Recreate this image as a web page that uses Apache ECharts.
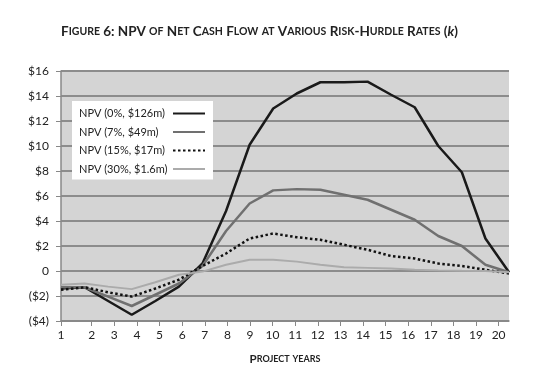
<!DOCTYPE html>
<html>
<head>
<meta charset="utf-8">
<script src="https://cdn.jsdelivr.net/npm/echarts@6/dist/echarts.min.js"></script>
<style>
html, body { margin: 0; padding: 0; background: #fff; }
#chart { width: 539px; height: 377px; }
</style>
</head>
<body>
<div id="chart"></div>
<script>
// 数据
var years = [1, 2, 3, 4, 5, 6, 7, 8, 9, 10, 11, 12, 13, 14, 15, 16, 17, 18, 19, 20];
var npv0 = [-1.4, -1.3, -2.4, -3.5, -2.4, -1.25, 0.6, 4.8, 10.1, 13.0, 14.2, 15.1, 15.1, 15.15, 14.1, 13.1, 10.0, 7.9, 2.6, -0.1];
var npv7 = [-1.3, -1.3, -2.05, -2.8, -1.9, -1.0, 0.4, 3.2, 5.4, 6.45, 6.55, 6.5, 6.1, 5.7, 4.9, 4.1, 2.8, 2.0, 0.5, -0.1];
var npv15 = [-1.5, -1.3, -1.7, -2.05, -1.4, -0.7, 0.4, 1.4, 2.6, 3.0, 2.7, 2.5, 2.1, 1.7, 1.2, 1.0, 0.6, 0.4, 0.1, -0.2];
var npv30 = [-1.1, -1.0, -1.25, -1.45, -0.9, -0.3, -0.05, 0.5, 0.9, 0.9, 0.75, 0.5, 0.3, 0.25, 0.2, 0.1, 0.05, 0.02, 0.0, -0.1];
var seriesNames = ['NPV (0%, $126m)', 'NPV (7%, $49m)', 'NPV (15%, $17m)', 'NPV (30%, $1.6m)'];

var font = 'Lato';

// 小型大写字母
function smallCaps(str) {
	var out = '';
	var cur = '';
	var style = '';
	for (var i = 0; i < str.length; i++) {
		var c = str.charAt(i);
		var st = (c >= 'a' && c <= 'z') ? 's' : 'b';
		if (st != style && cur != '') {
			out += '{' + style + '|' + cur + '}';
			cur = '';
		}
		style = st;
		cur += c.toUpperCase();
	}
	if (cur != '') out += '{' + style + '|' + cur + '}';
	return out;
}

function pairs(vals) {
	return years.map(function(y, i) {
		return [y, vals[i]];
	});
}

// 第一个刻度标签画在左边缘
var tickVals = years.map(function(y) {
	return y == 1 ? 0.64 : y;
});

var capsRich = {
	b: { fontFamily: font, fontSize: 13.5, color: '#222', fontWeight: 'bold' },
	s: { fontFamily: font, fontSize: 10.5, color: '#222', fontWeight: 'bold' },
	i: { fontFamily: font, fontSize: 13.5, color: '#222', fontStyle: 'italic', fontWeight: 'bold' }
};
var nameRich = {
	b: { fontFamily: font, fontSize: 11.5, color: '#222', fontWeight: 'bold' },
	s: { fontFamily: font, fontSize: 9, color: '#222', fontWeight: 'bold' }
};

var chart = echarts.init(document.getElementById('chart'));
var option = {
	backgroundColor: '#fff',
	animation: false,
	title: {
		text: smallCaps('Figure 6: NPV of Net Cash Flow at Various Risk-Hurdle Rates (') + '{i|k}{b|)}',
		left: 61,
		top: 25,
		padding: 0,
		textStyle: { rich: capsRich }
	},
	grid: {
		left: 61,
		right: 30,
		top: 71,
		bottom: 56,
		show: true,
		backgroundColor: '#d4d4d4',
		borderWidth: 0
	},
	legend: {
		orient: 'vertical',
		left: 72,
		top: 101,
		align: 'right',
		backgroundColor: '#fff',
		padding: [7, 7, 5, 7],
		itemWidth: 32,
		itemHeight: 10,
		itemGap: 7.5,
		itemStyle: { opacity: 0 },
		textStyle: {
			fontFamily: font,
			fontSize: 11,
			color: '#222',
			rich: {
				t: { fontFamily: font, fontSize: 11, color: '#222', width: 89, align: 'left', lineHeight: 14 }
			}
		},
		formatter: function(name) {
			return '{t|' + name + '}';
		},
		data: seriesNames
	},
	xAxis: [{
		type: 'value',
		min: 1,
		max: 20,
		show: false
	}, {
		type: 'value',
		min: 0.64,
		max: 20.46,
		position: 'bottom',
		name: smallCaps('Project years'),
		nameLocation: 'middle',
		nameGap: 32,
		nameTextStyle: { rich: nameRich },
		axisLine: { show: true, lineStyle: { color: '#888', width: 1.5 } },
		axisTick: { show: true, length: 5, customValues: tickVals, lineStyle: { color: '#888' } },
		axisLabel: {
			customValues: tickVals,
			margin: 8,
			fontFamily: font,
			fontSize: 12,
			color: '#222',
			formatter: function(v) {
				return v < 1 ? '1' : String(Math.round(v));
			}
		},
		splitLine: { show: false }
	}],
	yAxis: {
		type: 'value',
		min: -4,
		max: 16,
		interval: 2,
		axisLine: { show: true, lineStyle: { color: '#888', width: 1.5 } },
		axisTick: { show: true, length: 5, lineStyle: { color: '#888' } },
		axisLabel: {
			margin: 12,
			fontFamily: font,
			fontSize: 12,
			color: '#222',
			formatter: function(v) {
				if (v == 0) return '0';
				return v < 0 ? '($' + (-v) + ')' : '$' + v;
			}
		},
		splitLine: { show: true, lineStyle: { color: '#8c8c8c', width: 2 } }
	},
	series: [{
		name: seriesNames[0],
		type: 'line',
		xAxisIndex: 0,
		symbol: 'none',
		lineStyle: { color: '#1a1a1a', width: 2.5 },
		itemStyle: { color: '#1a1a1a' },
		data: pairs(npv0)
	}, {
		name: seriesNames[1],
		type: 'line',
		xAxisIndex: 0,
		symbol: 'none',
		lineStyle: { color: '#707070', width: 2.5 },
		itemStyle: { color: '#707070' },
		data: pairs(npv7)
	}, {
		name: seriesNames[2],
		type: 'line',
		xAxisIndex: 0,
		symbol: 'none',
		lineStyle: { color: '#111', width: 2.5, type: [2.5, 2.5] },
		itemStyle: { color: '#111' },
		data: pairs(npv15)
	}, {
		name: seriesNames[3],
		type: 'line',
		xAxisIndex: 0,
		symbol: 'none',
		lineStyle: { color: '#ababab', width: 2 },
		itemStyle: { color: '#ababab' },
		data: pairs(npv30)
	}]
};
chart.setOption(option);
</script>
</body>
</html>
